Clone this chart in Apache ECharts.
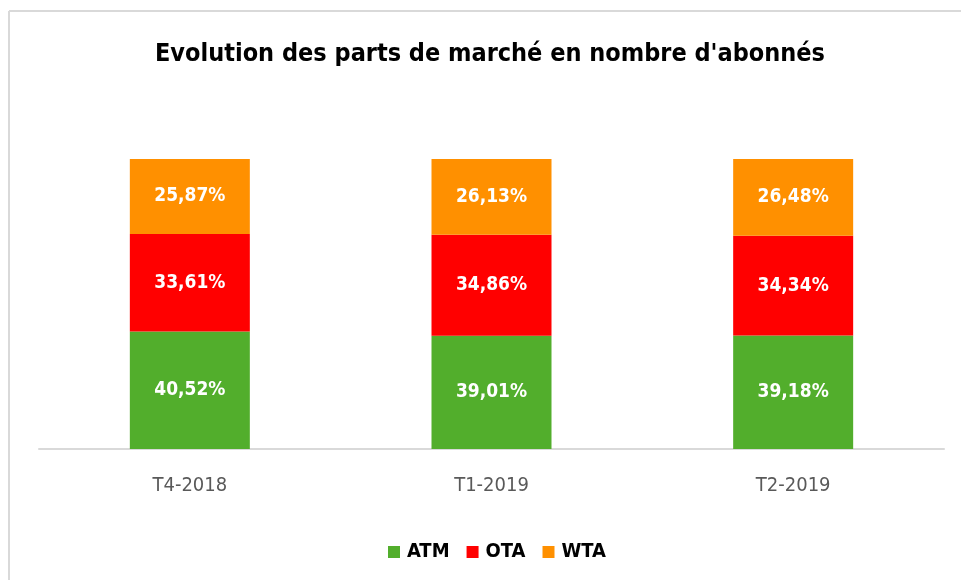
<!DOCTYPE html>
<html>
<head>
<meta charset="utf-8">
<script src="https://cdn.jsdelivr.net/npm/echarts@6/dist/echarts.min.js"></script>
<style>
html,body{margin:0;padding:0;background:#fff;}
#chart{width:961px;height:580px;}
</style>
</head>
<body>
<div id="chart"></div>
<script>
const categories = ['T4-2018', 'T1-2019', 'T2-2019'];
const atm = [40.52, 39.01, 39.18];
const ota = [33.61, 34.86, 34.34];
const wta = [25.87, 26.13, 26.48];
const seriesNames = ['ATM', 'OTA', 'WTA'];
const colors = ['#52AE2C', '#FF0000', '#FF9000'];

const FONT = '"DejaVu Sans Condensed", "Liberation Sans", Arial, sans-serif';
const chart = echarts.init(document.getElementById('chart'));

function fmt(p) { return p.value.toFixed(2).replace('.', ',') + '%'; }

const label = {
  show: true, position: 'inside', formatter: fmt,
  color: '#fff', fontFamily: FONT, fontSize: 19, fontWeight: 'bold'
};

chart.setOption({
  animation: false,
  backgroundColor: '#fff',
  title: {
    text: "Evolution des parts de marché en nombre d'abonnés",
    left: 150, top: 37,
    textStyle: { fontFamily: FONT, fontSize: 25, fontWeight: 'bold', color: '#000' }
  },
  graphic: [
    { type: 'line', shape: { x1: 9, y1: 11, x2: 961, y2: 11 }, style: { stroke: '#d9d9d9', lineWidth: 2 } },
    { type: 'line', shape: { x1: 9, y1: 11, x2: 9, y2: 580 }, style: { stroke: '#d9d9d9', lineWidth: 2 } }
  ],
  legend: {
    data: seriesNames,
    bottom: 13, left: 383,
    itemWidth: 12, itemHeight: 12, itemGap: 17,
    icon: 'rect',
    textStyle: { fontFamily: FONT, fontSize: 20, fontWeight: 'bold', color: '#000', padding: [0, 0, 0, 2] }
  },
  grid: { left: 39, right: 17, top: 159, bottom: 131, containLabel: false },
  xAxis: {
    type: 'category', data: categories,
    axisLine: { lineStyle: { color: '#d9d9d9', width: 2 } },
    axisTick: { show: false },
    axisLabel: { color: '#595959', fontFamily: FONT, fontSize: 20, margin: 27 }
  },
  yAxis: { type: 'value', min: 0, max: 100, show: false, splitLine: { show: false } },
  series: [
    { name: 'ATM', type: 'bar', stack: 'total', data: atm, barWidth: 120, itemStyle: { color: colors[0] }, label },
    { name: 'OTA', type: 'bar', stack: 'total', data: ota, barWidth: 120, itemStyle: { color: colors[1] }, label },
    { name: 'WTA', type: 'bar', stack: 'total', data: wta, barWidth: 120, itemStyle: { color: colors[2] }, label }
  ]
});
</script>
</body>
</html>
